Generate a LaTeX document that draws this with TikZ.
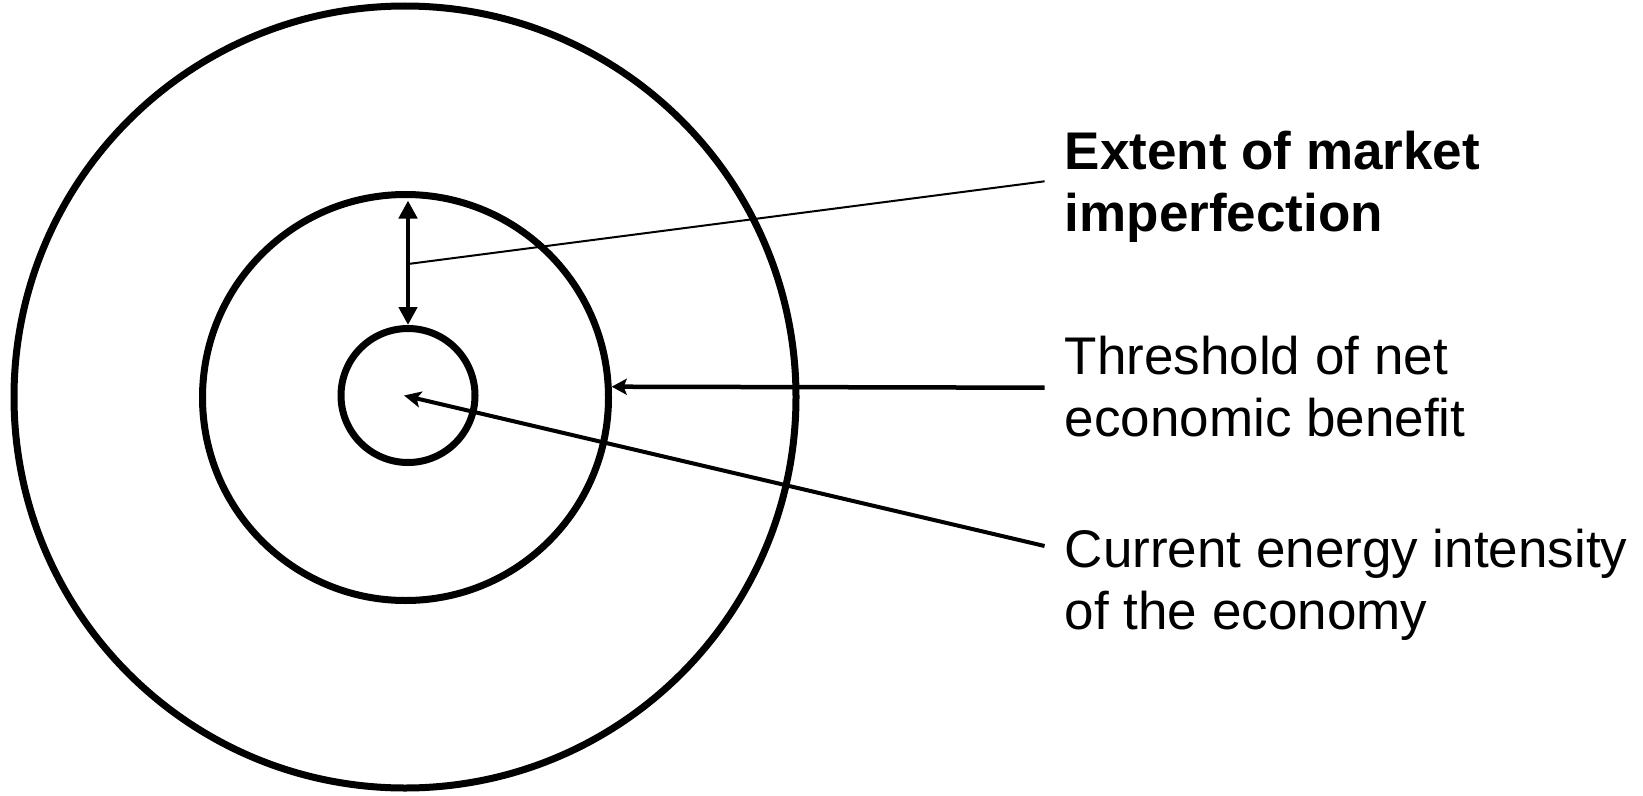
\documentclass[tikz,border=0pt]{standalone}
\usepackage{fontspec}
\setmainfont{Liberation Sans}
\usetikzlibrary{arrows.meta}
\begin{document}
\begin{tikzpicture}[x=1pt,y=-1pt,
  ring/.style={circle,draw,line width=7pt,inner sep=0pt,outer sep=3.5pt},
  lbl/.style={anchor=north west,inner sep=0pt,align=left},
  lblfont/.style={font=\fontsize{53}{62}\selectfont},
  dbl/.style={line width=4.5pt,{Triangle[length=18pt,width=18pt]}-{Triangle[length=18pt,width=18pt]}},
  harrow/.style={line width=4.5pt,-{Stealth[length=15pt,width=16pt,inset=3pt]}},
  darrow/.style={line width=4pt,-{Stealth[length=17pt,width=16pt,inset=4pt]}},
  leader/.style={line width=2pt}]
\useasboundingbox (0,0) rectangle (1643,795);
\node[ring,minimum size=782pt] (outer) at (405,397) {};
\node[ring,minimum size=406pt] (mid) at (405.5,397.5) {};
\node[ring,minimum size=134pt] (in) at (408,395.5) {};

\node[lbl,font=\fontsize{53}{62}\selectfont\bfseries] (l1) at (1064.6,131) {Extent of market\\imperfection};
\node[lbl,lblfont] (l2) at (1064.6,335.4) {Threshold of net\\economic benefit};
\node[lbl,lblfont] (l3) at (1064.6,528.4) {Current energy intensity\\of the economy};

\coordinate (dtop) at ([yshift=-9.5pt]in.north |- mid.north);
\draw[dbl] (dtop) -- (in.north);
\coordinate (joint) at (408,264);
\coordinate (p1) at (1044.6,181.3);
\coordinate (p2) at (1044.6,387.7);
\coordinate (p3) at (1044.6,546);
\draw[leader] (joint) -- (p1);
\draw[harrow] (p2) -- (mid.3);
\draw[darrow] (p3) -- ([xshift=-4pt]in.center);
\end{tikzpicture}
\end{document}
